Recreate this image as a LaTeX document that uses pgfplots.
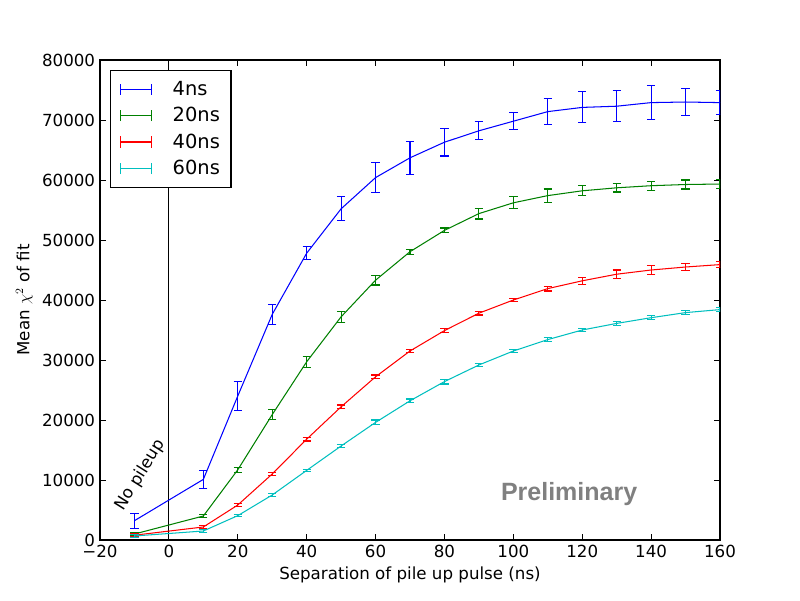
\documentclass[border=0pt]{standalone}
\usepackage{pgfplots}
\pgfplotsset{compat=1.18}
\usepackage{pgfplotstable}
\usepackage{fontspec}
\setmainfont{DejaVu Sans}
\newfontfamily\prelimfont{Liberation Sans}
\definecolor{mgreen}{rgb}{0,0.5,0}
\definecolor{mcyan}{rgb}{0,0.75,0.75}
\newcommand\twelve{\fontsize{12}{14.4}\selectfont}

\pgfplotstableread{
x    b      be    g      ge    r      re    c      ce
-10  3220   1250  1000   300   800    200   670    200
10   10100  1500  4000   300   2170   200   1500   200
20   24000  2350  11700  400   5830   300   4060   200
30   37600  1670  20900  800   11000  200   7500   200
40   47800  1100  29700  900   16800  300   11600  200
50   55200  2000  37200  900   22200  300   15670  300
60   60400  2560  43300  800   27200  300   19600  400
70   63700  2780  48050  400   31500  300   23200  300
80   66300  2300  51600  400   34900  300   26400  400
90   68200  1500  54400  900   37800  300   29170  300
100  69800  1450  56200  1000  40000  300   31500  300
110  71400  2140  57400  1100  41900  400   33400  300
120  72100  2580  58200  830   43200  600   35000  250
130  72300  2560  58700  700   44300  700   36100  300
140  72900  2860  59050  750   45000  700   37050  300
150  73000  2300  59250  750   45500  550   37900  300
160  72900  2000  59330  700   45900  500   38400  300
}\data

\pgfplotsset{
  ebar/.style={line width=0.75pt,
    legend image code/.code={\draw[line width=0.75pt] (0pt,0pt)--(22pt,0pt) (0pt,-4pt)--(0pt,4pt) (22pt,-4pt)--(22pt,4pt);},
    error bars/.cd, y dir=both, y explicit,
    error bar style={line width=0.75pt},
    error mark options={rotate=90, mark size=3pt, line width=0.75pt}},
}

\begin{document}
\begin{tikzpicture}
\fill[white] (-72pt,-43.2pt) rectangle (504pt,388.8pt);
\begin{axis}[
  name=ax,
  scale only axis,
  width=446.4pt, height=345.6pt,
  xmin=-20, xmax=160, ymin=0, ymax=80000,
  xtick={-20,0,20,40,60,80,100,120,140,160},
  xticklabels={−20,0,20,40,60,80,100,120,140,160},
  ytick={0,10000,20000,30000,40000,50000,60000,70000,80000},
  yticklabels={0,10000,20000,30000,40000,50000,60000,70000,80000},
  scaled y ticks=false,
  tick align=inside,
  major tick length=4pt,
  minor tick num=0,
  axis line style={line width=0.8pt},
  every tick/.style={black, line width=0.6pt},
  tick label style={font=\twelve},
  /pgf/number format/assume math mode=true,
  xlabel={Separation of pile up pulse (ns)},
  ylabel={Mean $\chi^2$ of fit},
  label style={font=\twelve},
  legend cell align=left,
  legend style={at={(axis description cs:0,1)}, anchor=north west, xshift=7.2pt, yshift=-7.2pt,
    font=\fontsize{14}{16}\selectfont, draw=black, line width=0.8pt,
    inner xsep=7pt, inner ysep=5.5pt, row sep=3.2pt, column sep=14pt,
    nodes={inner xsep=1pt}},
]
\addplot[black, line width=0.75pt, forget plot] coordinates {(0,0) (0,80000)};
\addplot[blue, ebar] table[x=x, y=b, y error=be] {\data};
\addlegendentry{4ns}
\addplot[mgreen, ebar] table[x=x, y=g, y error=ge] {\data};
\addlegendentry{20ns}
\addplot[red, ebar] table[x=x, y=r, y error=re] {\data};
\addlegendentry{40ns}
\addplot[mcyan, ebar] table[x=x, y=c, y error=ce] {\data};
\addlegendentry{60ns}
\node[rotate=58, font=\twelve] at (axis cs:-8.3,10830) {No pileup};
\node[anchor=base, font=\prelimfont\bfseries\fontsize{18}{20}\selectfont, text=black!50] at (axis cs:116.2,6550) {Preliminary};
\end{axis}
\pgfresetboundingbox
\path (-72pt,-43.2pt) rectangle (504pt,388.8pt);
\end{tikzpicture}
\end{document}
